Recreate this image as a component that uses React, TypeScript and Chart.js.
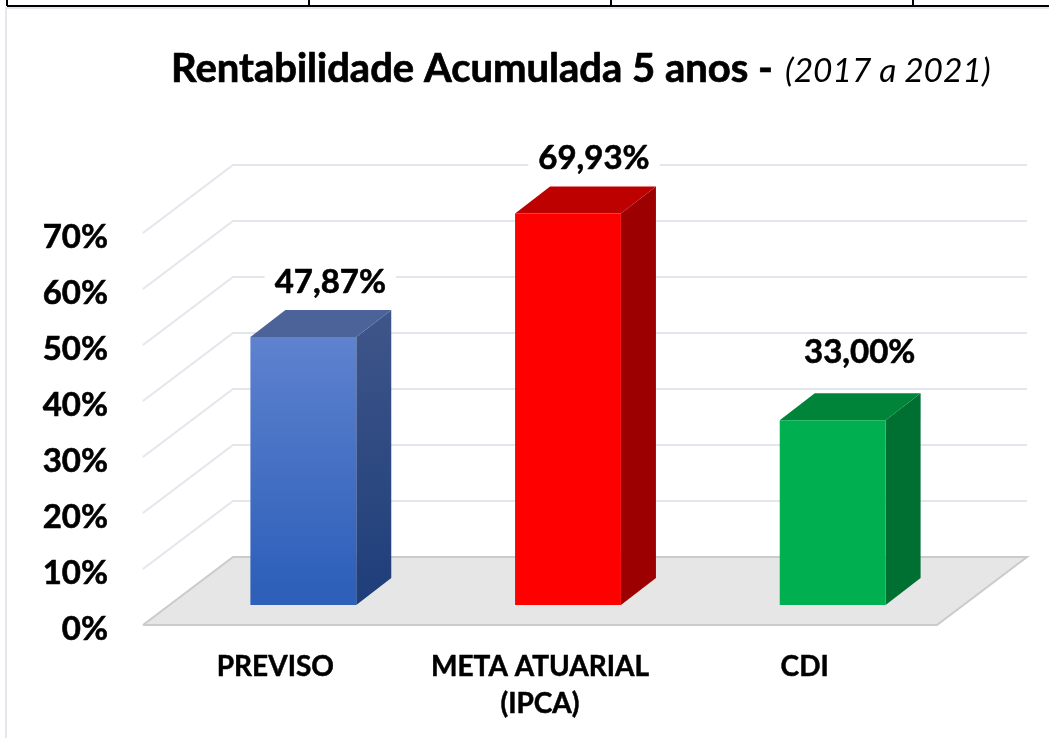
import React, { useEffect, useRef } from "react";
import { Chart, registerables } from "chart.js";

Chart.register(...registerables);

const categories: (string | string[])[] = ["PREVISO", ["META ATUARIAL", "(IPCA)"], "CDI"];
const values = [47.87, 69.93, 33.0];
const yTicks = [0, 10, 20, 30, 40, 50, 60, 70];
const titleBold = "Rentabilidade Acumulada 5 anos - ";
const titleItalic = "(2017 a 2021)";

const FONT = "Lato, Carlito, Calibri, sans-serif";
const WALL = { dx: 90, dy: -68 };
const BAR_SHIFT = { dx: 28, dy: -20 };
const BAR_DEPTH = { dx: 35, dy: -27 };
const LABEL_SHIFT = [{ dx: 27, dy: -55 }, { dx: 26, dy: -55 }, { dx: 27, dy: -68 }];
const FACES = [
  { top: "#4B6399", sideA: "#3F5689", sideB: "#1E3E7A", frontA: "#6285D0", frontB: "#2E60BA" },
  { top: "#BD0000", sideA: "#9C0000", sideB: "#9C0000", frontA: "#FF0000", frontB: "#FF0000" },
  { top: "#008439", sideA: "#006F32", sideB: "#006F32", frontA: "#00B050", frontB: "#00B050" },
];

function poly(ctx: CanvasRenderingContext2D, pts: number[][], fill: any) {
  ctx.beginPath();
  pts.forEach(([x, y], i) => (i ? ctx.lineTo(x, y) : ctx.moveTo(x, y)));
  ctx.closePath();
  ctx.fillStyle = fill;
  ctx.fill();
}

function heavyText(ctx: CanvasRenderingContext2D, text: string, x: number, y: number, w: number) {
  ctx.fillText(text, x, y);
  ctx.lineWidth = w;
  ctx.strokeStyle = "#000000";
  ctx.lineJoin = "round";
  ctx.strokeText(text, x, y);
}

const scenePlugin = {
  id: "scene3d",
  beforeDraw(chart: any) {
    const { ctx, width } = chart;
    const y = chart.scales.y;
    const x = chart.scales.x;
    ctx.save();
    ctx.fillStyle = "#FFFFFF";
    ctx.fillRect(0, 0, chart.width, chart.height);

    // surrounding page frame
    ctx.fillStyle = "#E4E7EC";
    ctx.fillRect(5, 8, 2, 730);
    ctx.fillRect(5, 7, width - 5, 2);
    ctx.fillStyle = "#000000";
    ctx.fillRect(7, 5, width - 7, 2);
    [7, 309, 611, 913].forEach((vx) => ctx.fillRect(vx - 1, 0, 2, 6));

    const x0 = x.left;
    const x1 = x.right;
    const y0 = y.getPixelForValue(0);

    // back wall and side wall grid lines
    ctx.strokeStyle = "#E3E6EC";
    ctx.lineWidth = 2;
    yTicks.slice(1).forEach((v) => {
      const py = y.getPixelForValue(v);
      ctx.beginPath();
      ctx.moveTo(x0, py);
      ctx.lineTo(x0 + WALL.dx, py + WALL.dy);
      ctx.lineTo(x1 + WALL.dx, py + WALL.dy);
      ctx.stroke();
    });

    // floor
    poly(ctx, [[x0, y0], [x1, y0], [x1 + WALL.dx, y0 + WALL.dy], [x0 + WALL.dx, y0 + WALL.dy]], "#E6E6E6");
    ctx.strokeStyle = "#C9CBCF";
    ctx.beginPath();
    ctx.moveTo(x0, y0);
    ctx.lineTo(x1, y0);
    ctx.lineTo(x1 + WALL.dx, y0 + WALL.dy);
    ctx.lineTo(x0 + WALL.dx, y0 + WALL.dy);
    ctx.lineTo(x0, y0);
    ctx.stroke();
    ctx.restore();

    // title
    ctx.save();
    ctx.fillStyle = "#000000";
    ctx.textBaseline = "alphabetic";
    ctx.textAlign = "left";
    ctx.font = `bold 40px ${FONT}`;
    heavyText(ctx, titleBold, 171, 82, 0.7);
    ctx.font = `italic 33.5px ${FONT}`;
    ctx.fillText(titleItalic, 785, 82);
    ctx.restore();
  },
  beforeDatasetsDraw(chart: any) {
    const { ctx } = chart;
    ctx.save();
    ctx.translate(BAR_SHIFT.dx, BAR_SHIFT.dy);
    chart.getDatasetMeta(0).data.forEach((bar: any, i: number) => {
      const p = bar.getProps(["x", "y", "base", "width"], true);
      const l = p.x - p.width / 2;
      const r = p.x + p.width / 2;
      const f = FACES[i];
      const { dx, dy } = BAR_DEPTH;
      const side = ctx.createLinearGradient(0, p.y + dy, 0, p.base);
      side.addColorStop(0, f.sideA);
      side.addColorStop(1, f.sideB);
      poly(ctx, [[r, p.y], [r + dx, p.y + dy], [r + dx, p.base + dy], [r, p.base]], side);
      poly(ctx, [[l, p.y], [l + dx, p.y + dy], [r + dx, p.y + dy], [r, p.y]], f.top);
    });
  },
  afterDatasetsDraw(chart: any) {
    const { ctx } = chart;
    ctx.restore();
    ctx.save();
    ctx.font = `bold 33px ${FONT}`;
    ctx.textAlign = "center";
    ctx.textBaseline = "middle";
    chart.getDatasetMeta(0).data.forEach((bar: any, i: number) => {
      const p = bar.getProps(["x", "y"], true);
      const text = values[i].toFixed(2).replace(".", ",") + "%";
      const cx = p.x + BAR_SHIFT.dx + LABEL_SHIFT[i].dx;
      const cy = p.y + BAR_SHIFT.dy + LABEL_SHIFT[i].dy;
      const w = ctx.measureText(text).width + 20;
      ctx.fillStyle = "#FFFFFF";
      ctx.fillRect(cx - w / 2, cy - 18, w, 36);
      ctx.fillStyle = "#000000";
      heavyText(ctx, text, cx, cy, 0.6);
    });
    ctx.restore();
  },
};

export default function App() {
  const ref = useRef<HTMLCanvasElement>(null);
  useEffect(() => {
    if (!ref.current) return;
    const frontGradient = (c: any) => {
      const f = FACES[c.dataIndex];
      const sy = c.chart.scales?.y;
      if (!sy || c.dataIndex === undefined) return f.frontA;
      const top = sy.getPixelForValue(values[c.dataIndex]) + BAR_SHIFT.dy;
      const base = sy.getPixelForValue(0) + BAR_SHIFT.dy;
      if (!Number.isFinite(top) || !Number.isFinite(base)) return f.frontA;
      const g = c.chart.ctx.createLinearGradient(0, top, 0, base);
      g.addColorStop(0, f.frontA);
      g.addColorStop(1, f.frontB);
      return g;
    };
    const chart = new Chart(ref.current, {
      type: "bar",
      data: {
        labels: categories as any,
        datasets: [
          {
            label: "Rentabilidade",
            data: values,
            backgroundColor: frontGradient as any,
            borderWidth: 0,
            categoryPercentage: 1,
            barPercentage: 0.4,
            clip: false as any,
          },
        ],
      },
      options: {
        responsive: false,
        animation: false,
        layout: { padding: { left: 0, right: 112, top: 233, bottom: 0 } },
        plugins: { legend: { display: false }, title: { display: false }, tooltip: { enabled: false } },
        scales: {
          x: {
            border: { display: false },
            grid: { display: false },
            afterFit: (s: any) => { s.height = 113; },
            ticks: {
              color: "#000000",
              font: { family: FONT, size: 28, weight: "bold", lineHeight: 1.33 },
              textStrokeColor: "#000000",
              textStrokeWidth: 0.5,
              padding: 15,
              maxRotation: 0,
              autoSkip: false,
            },
          },
          y: {
            min: 0,
            max: 70,
            border: { display: false },
            grid: { display: false },
            afterFit: (s: any) => { s.width = 143; },
            ticks: {
              stepSize: 10,
              color: "#000000",
              font: { family: FONT, size: 33, weight: "bold" },
              textStrokeColor: "#000000",
              textStrokeWidth: 0.6,
              padding: 27,
              labelOffset: 4,
              callback: (v: any) => `${v}%`,
            },
          },
        },
      },
      plugins: [scenePlugin as any],
    });
    return () => chart.destroy();
  }, []);
  return (
    <div style={{ position: "absolute", left: 0, top: 0, width: 1049, height: 738, overflow: "hidden" }}>
      <canvas ref={ref} width={1049} height={738} style={{ display: "block" }} />
    </div>
  );
}
